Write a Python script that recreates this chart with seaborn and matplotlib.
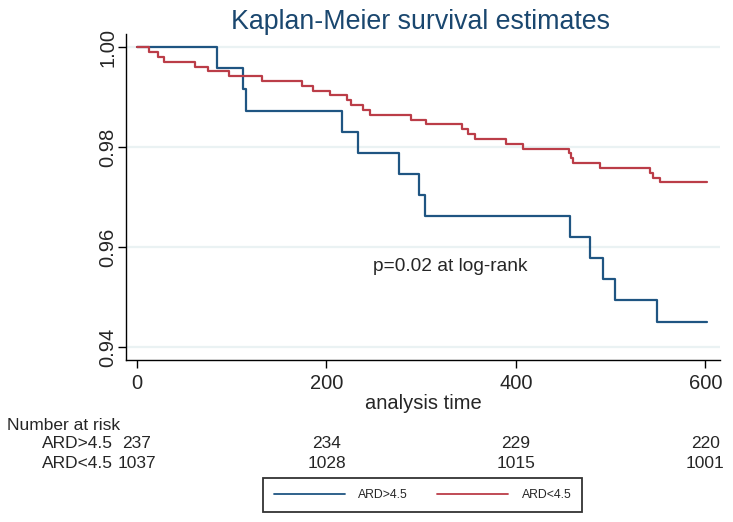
import matplotlib
matplotlib.use('Agg')

import matplotlib.pyplot as plt
import matplotlib.transforms as mtransforms
import seaborn as sns
import pandas as pd

# ================= DATA =================
blue_time = [0, 84, 112, 115, 216, 233, 277, 298, 304, 457, 478, 492, 505, 549, 602]
blue_surv = [1.0, 0.9958, 0.9916, 0.9873, 0.9831, 0.9789, 0.9747, 0.9705, 0.9662,
             0.9620, 0.9578, 0.9536, 0.9494, 0.9451, 0.9451]

red_time = [0, 13, 22, 29, 61, 75, 97, 132, 174, 186, 204, 222, 226, 239, 246,
            289, 305, 343, 349, 357, 390, 408, 456, 458, 460, 489, 542, 545, 552, 602]
red_surv = [1.0, 0.9990, 0.9981, 0.9971, 0.9961, 0.9952, 0.9942, 0.9932, 0.9923,
            0.9913, 0.9904, 0.9894, 0.9884, 0.9875, 0.9865, 0.9855, 0.9846, 0.9836,
            0.9826, 0.9817, 0.9807, 0.9797, 0.9788, 0.9778, 0.9768, 0.9759, 0.9749,
            0.9739, 0.9730, 0.9730]

groups = ["ARD>4.5", "ARD<4.5"]
risk_times = [0, 200, 400, 600]
risk_blue = [237, 234, 229, 220]
risk_red = [1037, 1028, 1015, 1001]

x_ticks = [0, 200, 400, 600]
y_ticks = [0.94, 0.96, 0.98, 1.00]
y_labels = ["0.94", "0.96", "0.98", "1.00"]

# ================= STYLE =================
sns.set_theme(style="white")
plt.rcParams['font.family'] = ['Liberation Sans', 'DejaVu Sans']

colors = {"ARD>4.5": "#1f5582", "ARD<4.5": "#bb3d48"}

df = pd.concat([
    pd.DataFrame({"time": blue_time, "surv": blue_surv, "group": groups[0]}),
    pd.DataFrame({"time": red_time, "surv": red_surv, "group": groups[1]}),
])

# ================= PLOT =================
fig = plt.figure(figsize=(7.33, 5.22), dpi=100)
ax = fig.add_axes([0.1719, 0.3103, 0.8104, 0.6245])

sns.lineplot(data=df, x="time", y="surv", hue="group", palette=colors,
             hue_order=groups, drawstyle="steps-post", estimator=None,
             linewidth=1.6, ax=ax)

ax.set_xlim(-11.6, 615.5)
ax.set_ylim(0.9374, 1.0026)
ax.set_xticks(x_ticks)
ax.set_yticks(y_ticks)
ax.set_yticklabels(y_labels, rotation=90, va="center")
ax.tick_params(axis="both", labelsize=14.5, length=6, width=1, color="black",
               direction="out", left=True, bottom=True)
ax.tick_params(axis="y", pad=0)
ax.tick_params(axis="x", pad=4)
ax.yaxis.grid(True, color="#eaf2f3", linewidth=1.6)
ax.xaxis.grid(False)
for s in ["top", "right"]:
    ax.spines[s].set_visible(False)
for s in ["left", "bottom"]:
    ax.spines[s].set_color("black")
    ax.spines[s].set_linewidth(1)

ax.set_xlabel("analysis time", fontsize=14.5, labelpad=1)
ax.set_ylabel("")

ax.text(249, 0.9562, "p=0.02 at log-rank", fontsize=13.8, va="center", ha="left")

fig.text(0.573, 0.982, "Kaplan-Meier survival estimates", fontsize=19.3,
         color="#1a476f", ha="center", va="top")

# number at risk
trans = mtransforms.blended_transform_factory(ax.transData, fig.transFigure)
fig.text(7 / 733, 1 - 425 / 522, "Number at risk", fontsize=12.5, va="center")
fig.text(113 / 733, 1 - 443 / 522, groups[0], fontsize=12.5, va="center", ha="right")
fig.text(113 / 733, 1 - 463 / 522, groups[1], fontsize=12.5, va="center", ha="right")
for t, nb, nr in zip(risk_times, risk_blue, risk_red):
    ax.text(t, 1 - 443 / 522, str(nb), fontsize=12.5, va="center", ha="center",
            transform=trans, clip_on=False)
    ax.text(t, 1 - 463 / 522, str(nr), fontsize=12.5, va="center", ha="center",
            transform=trans, clip_on=False)

# legend
handles, labels = ax.get_legend_handles_labels()
ax.get_legend().remove()
leg = fig.legend(handles, labels, loc="center", bbox_to_anchor=(0.5764, 0.0508),
                 ncol=2, fontsize=8.8, handlelength=5.8, handletextpad=1.1,
                 columnspacing=2.4, fancybox=False, framealpha=1,
                 edgecolor="#333333", borderpad=0.9)
leg.get_frame().set_linewidth(1.3)
for line in leg.get_lines():
    line.set_linewidth(1.3)

fig.savefig("out.png", dpi=100)
